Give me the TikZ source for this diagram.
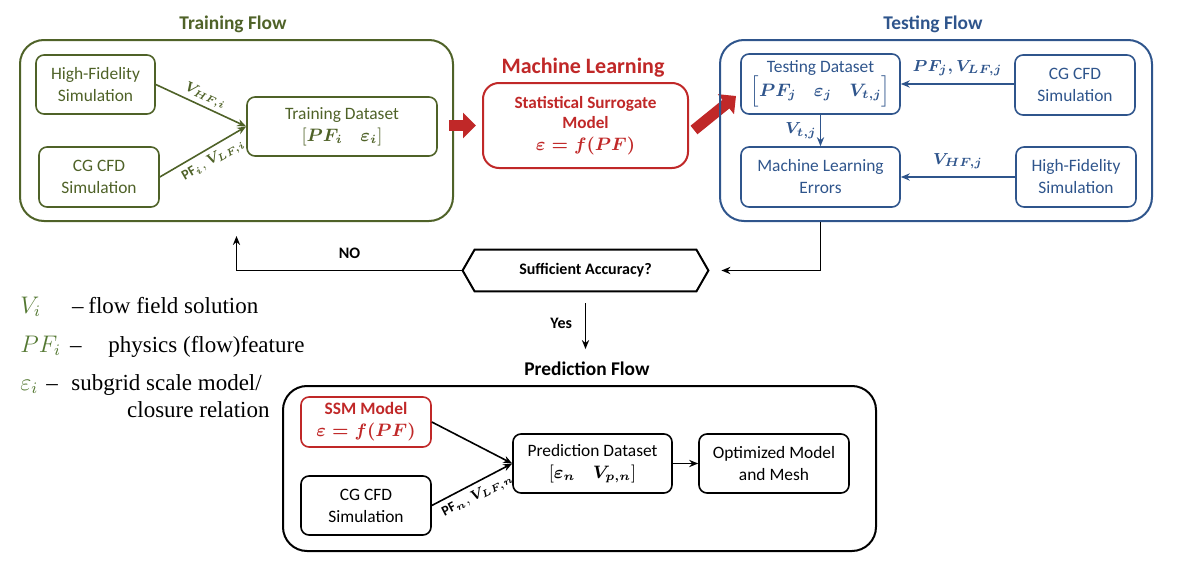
\documentclass[tikz,border=0pt]{standalone}
\usepackage{amsmath,amssymb}
\usepackage{fontspec}
\setmainfont{Carlito}
\newfontfamily\legendfont[Ligatures=TeX]{Liberation Serif}
\usepackage{tikz}
\usetikzlibrary{positioning,arrows.meta}
\definecolor{trgreen}{RGB}{79,98,40}
\definecolor{lggreen}{RGB}{84,120,50}
\definecolor{tsblue}{RGB}{47,85,140}
\definecolor{mlred}{RGB}{192,40,40}

\begin{document}
\begin{tikzpicture}[x=0.5pt,y=-0.5pt,
  >={Stealth[length=4.5pt,width=3.6pt]},
  box/.style={draw,rounded corners=4pt,line width=0.8pt,align=center,inner sep=2pt,font=\fontsize{8.7}{11}\selectfont},
  flowbox/.style={draw,rounded corners=12pt,line width=1pt},
  flowtitle/.style={font=\bfseries\fontsize{9.7}{12}\selectfont},
  lbl/.style={font=\fontsize{7.5}{9}\selectfont,inner sep=1.5pt},
  legend/.style={font=\legendfont\fontsize{11.5}{14}\selectfont,inner sep=0pt},
  redarrow/.style={draw=mlred,line width=5.5pt,-{Triangle[length=6.5pt,width=12.5pt]}}]

\useasboundingbox (0,0) rectangle (1196,562);

% training flow
\node[flowtitle,text=trgreen] (trtitle) at (233,24) {Training Flow};
\node[flowbox,draw=trgreen,minimum width=216.5pt,minimum height=90.5pt] (train) at (236.5,130.5) {};
\node[box,draw=trgreen,text=trgreen,minimum width=59.5pt,minimum height=29.5pt] (hf) at (95.5,84.5) {High-Fidelity\\Simulation};
\node[box,draw=trgreen,text=trgreen,minimum width=60pt,minimum height=30pt] (cg) at (99,177) {CG CFD\\Simulation};
\node[box,draw=trgreen,text=trgreen,minimum width=95pt,minimum height=29.5pt] (tds) at (342,126.5) {Training Dataset\\$[\boldsymbol{PF_i}\quad\boldsymbol{\varepsilon_i}]$};

\path [->,color=trgreen,line width=0.8pt] (hf.east) edge node[lbl,midway,above,sloped] {$\boldsymbol{V_{HF,i}}$} (tds.west);
\path [->,color=trgreen,line width=0.8pt] (cg.east) edge node[lbl,pos=0.55,below=1pt,sloped,font=\fontsize{7}{9}\selectfont] {$\mathbf{PF}_{\boldsymbol{i}},\boldsymbol{V_{LF,i}}$} (tds.west);

% machine learning
\node[font=\bfseries\fontsize{11}{13}\selectfont,text=mlred] (mltitle) at (583,68) {Machine Learning};
\node[box,draw=mlred,text=mlred,line width=1pt,rounded corners=8pt,font=\bfseries\fontsize{8.6}{10}\selectfont,minimum width=102.5pt,minimum height=42.5pt] (surr) at (585.5,125.5) {Statistical Surrogate\\Model\\[1pt]$\boldsymbol{\varepsilon = f(PF)}$};

\coordinate (mlout) at (694,130);
\coordinate (tsin) at (736,96);
\draw[redarrow,shorten <=-2.5pt,shorten >=3pt] (train.east |- surr.west) -- (surr.west);
\draw[redarrow] (mlout) -- (tsin);

% testing flow
\node[flowtitle,text=tsblue] (tstitle) at (933,24) {Testing Flow};
\node[flowbox,draw=tsblue,minimum width=216pt,minimum height=90.5pt] (test) at (936,130.5) {};
\node[box,draw=tsblue,text=tsblue,minimum width=79.5pt,minimum height=30pt] (tsd) at (820.5,84) {Testing Dataset\\[-1pt]$\Big[\boldsymbol{PF_j}\quad\boldsymbol{\varepsilon_j}\quad\boldsymbol{V_{t,j}}\Big]$};
\node[box,draw=tsblue,text=tsblue,minimum width=60pt,minimum height=30pt] (tcg) at (1075,85) {CG CFD\\Simulation};
\node[box,draw=tsblue,text=tsblue,minimum width=79.5pt,minimum height=30pt] (mle) at (820.5,177) {Machine Learning\\Errors};
\node[box,draw=tsblue,text=tsblue,minimum width=60pt,minimum height=30pt] (thf) at (1076,177) {High-Fidelity\\Simulation};

\path [->,color=tsblue,line width=0.8pt] (tcg.west |- tsd.east) edge node[lbl,midway,above=2pt,font=\fontsize{8}{10}\selectfont] {$\boldsymbol{PF_j, V_{LF,j}}$} (tsd.east);
\path [->,color=tsblue,line width=0.8pt] (thf.west |- mle.east) edge node[lbl,midway,above=2pt,font=\fontsize{8}{10}\selectfont] {$\boldsymbol{V_{HF,j}}$} (mle.east);
\path [->,color=tsblue,line width=0.8pt] (tsd.south) edge node[lbl,midway,left,font=\fontsize{8}{10}\selectfont] {$\boldsymbol{V_{t,j}}$} (mle.north);

% decision
\node[minimum width=122.5pt,minimum height=20.5pt,font=\bfseries\fontsize{8}{10}\selectfont] (dec) at (585.5,270.5) {Sufficient Accuracy?};
\draw[line width=1pt] (dec.west) -- ([xshift=6pt]dec.north west) -- ([xshift=-6pt]dec.north east) -- (dec.east) -- ([xshift=-6pt]dec.south east) -- ([xshift=6pt]dec.south west) -- cycle;

\draw[->,line width=0.9pt] (dec.west) -| node[pos=0.25,above=2pt,font=\bfseries\fontsize{8}{10}\selectfont] {NO} ([yshift=-7pt]train.south);
\draw[->,line width=0.9pt,shorten >=6.5pt] (mle.south |- test.south) |- (dec.east);

% prediction flow
\node[flowtitle] (prtitle) at (587,369) {Prediction Flow};
\draw[->,line width=0.9pt,shorten <=6pt,shorten >=3pt] (dec.south) -- node[midway,left=3pt,font=\bfseries\fontsize{8}{10}\selectfont] {Yes} (dec.south |- prtitle.north);

\node[flowbox,draw=black,minimum width=296.5pt,minimum height=82.5pt] (pred) at (579.5,468.5) {};
\node[box,draw=mlred,text=mlred,minimum width=65pt,minimum height=25pt,font=\bfseries\fontsize{8.7}{11}\selectfont] (ssm) at (366,422) {SSM Model\\$\boldsymbol{\varepsilon = f(PF)}$};
\node[box,minimum width=65pt,minimum height=29.5pt] (pcg) at (366,505.5) {CG CFD\\Simulation};
\node[box,minimum width=79.5pt,minimum height=29.5pt] (pds) at (592.5,463.5) {Prediction Dataset\\$[\boldsymbol{\varepsilon_n}\quad\boldsymbol{V_{p,n}}]$};
\node[box,minimum width=75pt,minimum height=29.5pt] (opt) at (774,463.5) {Optimized Model\\and Mesh};

\path [->,line width=0.8pt] (ssm.east) edge (pds.west);
\path [->,line width=0.8pt] (pcg.east) edge node[lbl,pos=0.5,below=1pt,sloped,font=\fontsize{7}{9}\selectfont] {$\mathbf{PF}_{\boldsymbol{n}},\boldsymbol{V_{LF,n}}$} (pds.west);
\path [->,line width=0.8pt] (pds.east) edge (opt.west);

% legend
\node[legend,anchor=base west,text=lggreen] (lv) at (20,313) {$V_i$};
\node[legend,anchor=base] (lvdash) at (78,313) {\textendash};
\node[legend,anchor=base west] (lvtext) at (88,313) {flow field solution};
\node[legend,anchor=base west,text=lggreen] (lpf) at (20,352) {$PF_i$};
\node[legend,anchor=base] (lpfdash) at (76,352) {\textendash};
\node[legend,anchor=base west] (lpftext) at (108,352) {physics (flow)feature};
\node[legend,anchor=base west,text=lggreen] (leps) at (20,390) {$\varepsilon_i$};
\node[legend,anchor=base] (lepsdash) at (52,390) {\textendash};
\node[legend,anchor=base west] (lepstext) at (71,390) {subgrid scale model/};
\node[legend,anchor=base east] (lepstext2) at (270,417) {closure relation};

\end{tikzpicture}
\end{document}
